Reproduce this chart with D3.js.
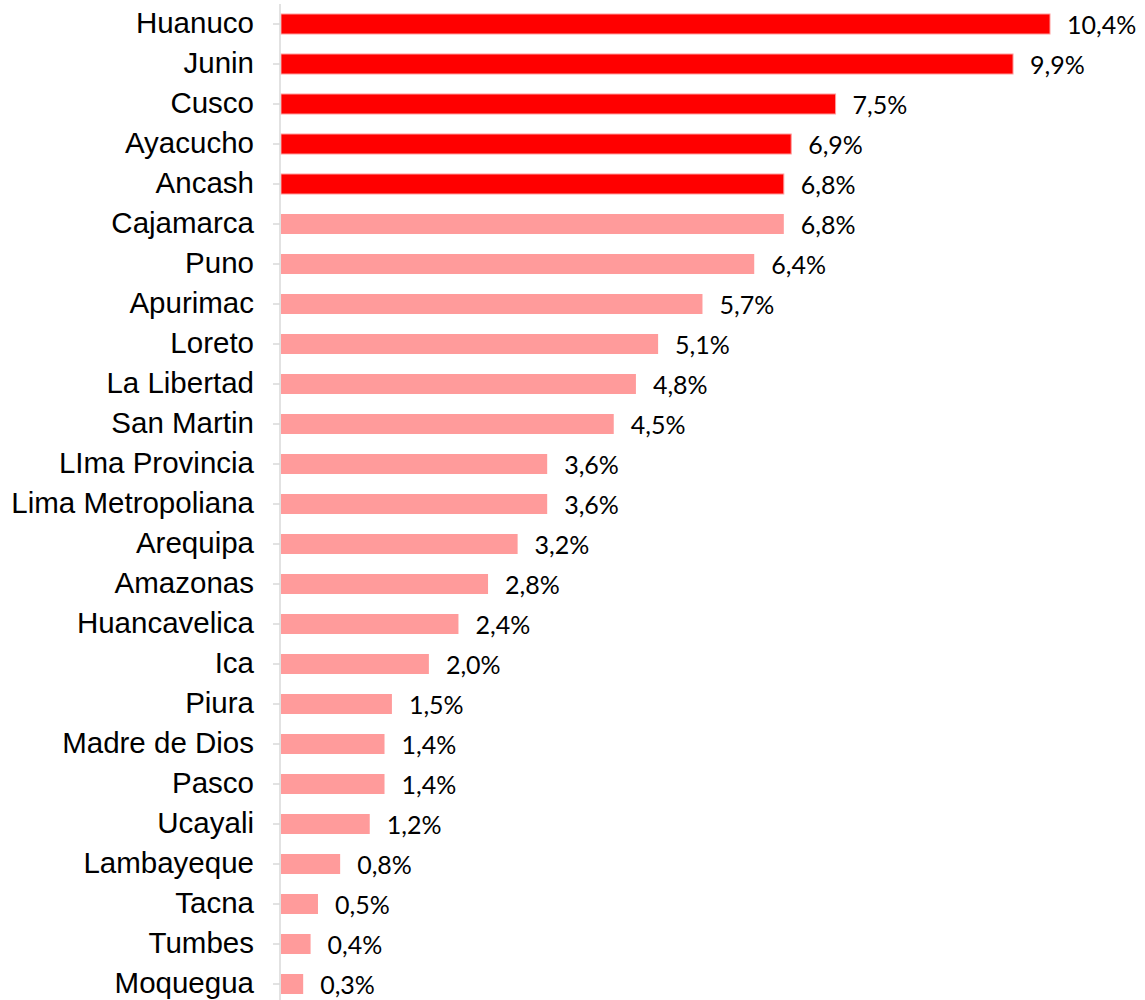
<!DOCTYPE html>
<html>
<head>
<meta charset="utf-8">
<script src="https://cdn.jsdelivr.net/npm/d3@7"></script>
<style>
    body { margin: 0; background: #ffffff; }
    svg { display: block; }
</style>
</head>
<body>
<div id="chart"></div>
<script>
// Regions and their share (%)
const regions = [
    "Huanuco", "Junin", "Cusco", "Ayacucho", "Ancash", "Cajamarca", "Puno",
    "Apurimac", "Loreto", "La Libertad", "San Martin", "LIma Provincia",
    "Lima Metropoliana", "Arequipa", "Amazonas", "Huancavelica", "Ica", "Piura",
    "Madre de Dios", "Pasco", "Ucayali", "Lambayeque", "Tacna", "Tumbes", "Moquegua"
];
const shares = [
    10.4, 9.9, 7.5, 6.9, 6.8, 6.8, 6.4,
    5.7, 5.1, 4.8, 4.5, 3.6,
    3.6, 3.2, 2.8, 2.4, 2.0, 1.5,
    1.4, 1.4, 1.2, 0.8, 0.5, 0.4, 0.3
];
// top five regions get the strong colour
const highlighted = ["Huanuco", "Junin", "Cusco", "Ayacucho", "Ancash"];

const width_svg = 1145;
const height_svg = 1000;
const margin = {top: 4, left: 281};

const data = regions.map((r, i) => ({region: r, value: shares[i]}));

const svg = d3.select("#chart")
    .append("svg")
    .attr("width", width_svg)
    .attr("height", height_svg);

const x = d3.scaleLinear()
    .domain([0, 10.4])
    .range([margin.left, 1050]);

const y = d3.scaleBand()
    .domain(regions)
    .range([margin.top, margin.top + 40 * regions.length])
    .paddingInner(0.5)
    .paddingOuter(0.25);

// bars
svg.append("g")
    .selectAll("rect")
    .data(data)
    .enter()
    .append("rect")
    .attr("x", x(0))
    .attr("y", d => y(d.region))
    .attr("width", d => x(d.value) - x(0))
    .attr("height", y.bandwidth())
    .attr("fill", d => highlighted.includes(d.region) ? "#ff0000" : "#ff9b9b")
    .attr("stroke", d => highlighted.includes(d.region) ? "#ff9b9b" : "none")
    .attr("stroke-width", 1);

// category axis
const yAxis = svg.append("g")
    .attr("transform", `translate(${margin.left - 1},0)`)
    .call(d3.axisLeft(y).tickSize(7).tickPadding(19));

yAxis.select(".domain")
    .attr("stroke", "#d9d9d9")
    .attr("stroke-width", 1.5)
    .attr("d", `M0,${margin.top}V${height_svg}`);
yAxis.selectAll(".tick line")
    .attr("stroke", "#d9d9d9")
    .attr("stroke-width", 1.5);
yAxis.selectAll(".tick text")
    .attr("fill", "#000000")
    .attr("dy", "0.3em")
    .style("font-family", "'Liberation Sans', Arial, sans-serif")
    .style("font-size", "29.5px");

// value labels
const fmt = v => v.toFixed(1).replace(".", ",") + "%";
svg.append("g")
    .selectAll("text")
    .data(data)
    .enter()
    .append("text")
    .attr("x", d => x(d.value) + 17)
    .attr("y", d => y(d.region) + y.bandwidth() / 2)
    .attr("dy", "0.4em")
    .attr("fill", "#000000")
    .style("font-family", "Lato, 'Open Sans', sans-serif")
    .style("font-size", "25px")
    .text(d => fmt(d.value));
</script>
</body>
</html>
